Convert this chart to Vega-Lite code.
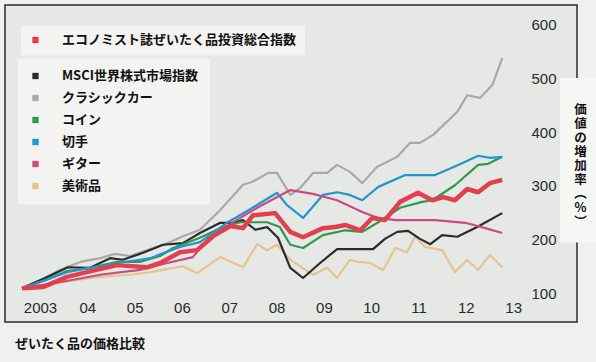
{
  "$schema": "https://vega.github.io/schema/vega-lite/v6.json",
  "width": 572,
  "height": 317,
  "autosize": {"type": "none"},
  "padding": {"left": 5, "top": 5, "right": 19, "bottom": 40},
  "background": "#f0f0f0",
  "config": {
    "view": {"fill": "#e5e8e5", "stroke": "#2b2b2b", "strokeWidth": 1.5},
    "legend": {
      "orient": "none",
      "title": null,
      "symbolType": "square",
      "symbolSize": 40,
      "labelFont": "Noto Sans CJK JP",
      "labelFontWeight": "bold",
      "labelFontSize": 13,
      "labelColor": "#111111",
      "labelOffset": 20,
      "labelLimit": 400,
      "fillColor": "#f3f3f2"
    }
  },
  "title": {
    "text": "ぜいたく品の価格比較",
    "orient": "bottom",
    "anchor": "start",
    "frame": "group",
    "baseline": "top",
    "offset": 16,
    "dx": 10,
    "font": "Noto Sans CJK JP",
    "fontWeight": "bold",
    "fontSize": 13,
    "color": "#111111"
  },
  "datasets": {
    "grid": [{"value": 200}, {"value": 300}, {"value": 400}, {"value": 500}, {"value": 600}],
    "base": [{"value": 100}],
    "prices": [
      {"s": "クラシックカー", "year": 2002.62, "value": 109},
      {"s": "クラシックカー", "year": 2003.0, "value": 124},
      {"s": "クラシックカー", "year": 2003.42, "value": 143},
      {"s": "クラシックカー", "year": 2003.85, "value": 158},
      {"s": "クラシックカー", "year": 2004.27, "value": 165},
      {"s": "クラシックカー", "year": 2004.59, "value": 173},
      {"s": "クラシックカー", "year": 2004.9, "value": 169},
      {"s": "クラシックカー", "year": 2005.33, "value": 182},
      {"s": "クラシックカー", "year": 2005.64, "value": 191},
      {"s": "クラシックカー", "year": 2006.0, "value": 205},
      {"s": "クラシックカー", "year": 2006.38, "value": 218},
      {"s": "クラシックカー", "year": 2006.81, "value": 255},
      {"s": "クラシックカー", "year": 2007.29, "value": 302},
      {"s": "クラシックカー", "year": 2007.48, "value": 307},
      {"s": "クラシックカー", "year": 2007.82, "value": 324},
      {"s": "クラシックカー", "year": 2008.01, "value": 324},
      {"s": "クラシックカー", "year": 2008.29, "value": 283},
      {"s": "クラシックカー", "year": 2008.5, "value": 296},
      {"s": "クラシックカー", "year": 2008.77, "value": 324},
      {"s": "クラシックカー", "year": 2009.07, "value": 324},
      {"s": "クラシックカー", "year": 2009.28, "value": 339},
      {"s": "クラシックカー", "year": 2009.55, "value": 326},
      {"s": "クラシックカー", "year": 2009.81, "value": 305},
      {"s": "クラシックカー", "year": 2010.12, "value": 335},
      {"s": "クラシックカー", "year": 2010.55, "value": 354},
      {"s": "クラシックカー", "year": 2010.82, "value": 380},
      {"s": "クラシックカー", "year": 2011.03, "value": 380},
      {"s": "クラシックカー", "year": 2011.31, "value": 395},
      {"s": "クラシックカー", "year": 2011.82, "value": 438},
      {"s": "クラシックカー", "year": 2012.03, "value": 469},
      {"s": "クラシックカー", "year": 2012.3, "value": 464},
      {"s": "クラシックカー", "year": 2012.56, "value": 488},
      {"s": "クラシックカー", "year": 2012.77, "value": 538},

      {"s": "美術品", "year": 2002.62, "value": 109},
      {"s": "美術品", "year": 2003.42, "value": 120},
      {"s": "美術品", "year": 2004.27, "value": 130},
      {"s": "美術品", "year": 2004.9, "value": 134},
      {"s": "美術品", "year": 2005.33, "value": 139},
      {"s": "美術品", "year": 2006.02, "value": 150},
      {"s": "美術品", "year": 2006.32, "value": 137},
      {"s": "美術品", "year": 2006.81, "value": 167},
      {"s": "美術品", "year": 2007.29, "value": 148},
      {"s": "美術品", "year": 2007.59, "value": 191},
      {"s": "美術品", "year": 2007.8, "value": 180},
      {"s": "美術品", "year": 2008.01, "value": 190},
      {"s": "美術品", "year": 2008.29, "value": 162},
      {"s": "美術品", "year": 2008.77, "value": 134},
      {"s": "美術品", "year": 2009.07, "value": 147},
      {"s": "美術品", "year": 2009.28, "value": 128},
      {"s": "美術品", "year": 2009.55, "value": 162},
      {"s": "美術品", "year": 2009.72, "value": 158},
      {"s": "美術品", "year": 2009.98, "value": 156},
      {"s": "美術品", "year": 2010.25, "value": 143},
      {"s": "美術品", "year": 2010.51, "value": 184},
      {"s": "美術品", "year": 2010.76, "value": 176},
      {"s": "美術品", "year": 2010.93, "value": 206},
      {"s": "美術品", "year": 2011.14, "value": 186},
      {"s": "美術品", "year": 2011.5, "value": 180},
      {"s": "美術品", "year": 2011.77, "value": 139},
      {"s": "美術品", "year": 2012.03, "value": 162},
      {"s": "美術品", "year": 2012.26, "value": 143},
      {"s": "美術品", "year": 2012.51, "value": 171},
      {"s": "美術品", "year": 2012.77, "value": 148},

      {"s": "MSCI世界株式市場指数", "year": 2002.62, "value": 109},
      {"s": "MSCI世界株式市場指数", "year": 2003.11, "value": 128},
      {"s": "MSCI世界株式市場指数", "year": 2003.59, "value": 148},
      {"s": "MSCI世界株式市場指数", "year": 2004.06, "value": 147},
      {"s": "MSCI世界株式市場指数", "year": 2004.48, "value": 165},
      {"s": "MSCI世界株式市場指数", "year": 2004.75, "value": 162},
      {"s": "MSCI世界株式市場指数", "year": 2005.18, "value": 175},
      {"s": "MSCI世界株式市場指数", "year": 2005.6, "value": 190},
      {"s": "MSCI世界株式市場指数", "year": 2006.02, "value": 193},
      {"s": "MSCI世界株式市場指数", "year": 2006.38, "value": 212},
      {"s": "MSCI世界株式市場指数", "year": 2006.81, "value": 231},
      {"s": "MSCI世界株式市場指数", "year": 2007.08, "value": 231},
      {"s": "MSCI世界株式市場指数", "year": 2007.29, "value": 236},
      {"s": "MSCI世界株式市場指数", "year": 2007.55, "value": 218},
      {"s": "MSCI世界株式市場指数", "year": 2007.8, "value": 223},
      {"s": "MSCI世界株式市場指数", "year": 2008.03, "value": 203},
      {"s": "MSCI世界株式市場指数", "year": 2008.29, "value": 147},
      {"s": "MSCI世界株式市場指数", "year": 2008.56, "value": 128},
      {"s": "MSCI世界株式市場指数", "year": 2008.92, "value": 156},
      {"s": "MSCI世界株式市場指数", "year": 2009.28, "value": 182},
      {"s": "MSCI世界株式市場指数", "year": 2010.04, "value": 182},
      {"s": "MSCI世界株式市場指数", "year": 2010.29, "value": 201},
      {"s": "MSCI世界株式市場指数", "year": 2010.55, "value": 214},
      {"s": "MSCI世界株式市場指数", "year": 2010.78, "value": 216},
      {"s": "MSCI世界株式市場指数", "year": 2011.03, "value": 201},
      {"s": "MSCI世界株式市場指数", "year": 2011.25, "value": 191},
      {"s": "MSCI世界株式市場指数", "year": 2011.5, "value": 208},
      {"s": "MSCI世界株式市場指数", "year": 2011.82, "value": 205},
      {"s": "MSCI世界株式市場指数", "year": 2012.24, "value": 223},
      {"s": "MSCI世界株式市場指数", "year": 2012.77, "value": 249},

      {"s": "コイン", "year": 2002.62, "value": 109},
      {"s": "コイン", "year": 2003.11, "value": 124},
      {"s": "コイン", "year": 2003.57, "value": 141},
      {"s": "コイン", "year": 2004.06, "value": 147},
      {"s": "コイン", "year": 2004.63, "value": 158},
      {"s": "コイン", "year": 2005.11, "value": 158},
      {"s": "コイン", "year": 2005.54, "value": 169},
      {"s": "コイン", "year": 2005.81, "value": 184},
      {"s": "コイン", "year": 2006.38, "value": 203},
      {"s": "コイン", "year": 2006.81, "value": 221},
      {"s": "コイン", "year": 2007.23, "value": 232},
      {"s": "コイン", "year": 2007.8, "value": 232},
      {"s": "コイン", "year": 2008.07, "value": 223},
      {"s": "コイン", "year": 2008.29, "value": 190},
      {"s": "コイン", "year": 2008.56, "value": 184},
      {"s": "コイン", "year": 2008.98, "value": 208},
      {"s": "コイン", "year": 2009.45, "value": 217},
      {"s": "コイン", "year": 2009.81, "value": 214},
      {"s": "コイン", "year": 2010.15, "value": 232},
      {"s": "コイン", "year": 2010.61, "value": 259},
      {"s": "コイン", "year": 2011.08, "value": 270},
      {"s": "コイン", "year": 2011.29, "value": 273},
      {"s": "コイン", "year": 2011.77, "value": 301},
      {"s": "コイン", "year": 2012.26, "value": 339},
      {"s": "コイン", "year": 2012.47, "value": 341},
      {"s": "コイン", "year": 2012.77, "value": 354},

      {"s": "切手", "year": 2002.62, "value": 109},
      {"s": "切手", "year": 2003.11, "value": 124},
      {"s": "切手", "year": 2003.57, "value": 139},
      {"s": "切手", "year": 2004.06, "value": 147},
      {"s": "切手", "year": 2004.63, "value": 156},
      {"s": "切手", "year": 2005.11, "value": 162},
      {"s": "切手", "year": 2005.33, "value": 165},
      {"s": "切手", "year": 2005.96, "value": 186},
      {"s": "切手", "year": 2006.38, "value": 195},
      {"s": "切手", "year": 2006.95, "value": 231},
      {"s": "切手", "year": 2007.38, "value": 253},
      {"s": "切手", "year": 2008.01, "value": 287},
      {"s": "切手", "year": 2008.22, "value": 264},
      {"s": "切手", "year": 2008.56, "value": 240},
      {"s": "切手", "year": 2008.98, "value": 283},
      {"s": "切手", "year": 2009.28, "value": 288},
      {"s": "切手", "year": 2009.55, "value": 283},
      {"s": "切手", "year": 2009.81, "value": 273},
      {"s": "切手", "year": 2010.15, "value": 298},
      {"s": "切手", "year": 2010.72, "value": 320},
      {"s": "切手", "year": 2011.35, "value": 320},
      {"s": "切手", "year": 2011.84, "value": 339},
      {"s": "切手", "year": 2012.26, "value": 356},
      {"s": "切手", "year": 2012.51, "value": 352},
      {"s": "切手", "year": 2012.77, "value": 354},

      {"s": "ギター", "year": 2002.62, "value": 109},
      {"s": "ギター", "year": 2003.42, "value": 120},
      {"s": "ギター", "year": 2004.27, "value": 134},
      {"s": "ギター", "year": 2005.11, "value": 143},
      {"s": "ギター", "year": 2005.6, "value": 154},
      {"s": "ギター", "year": 2006.23, "value": 167},
      {"s": "ギター", "year": 2006.53, "value": 199},
      {"s": "ギター", "year": 2007.02, "value": 229},
      {"s": "ギター", "year": 2007.59, "value": 259},
      {"s": "ギター", "year": 2008.29, "value": 292},
      {"s": "ギター", "year": 2008.77, "value": 285},
      {"s": "ギター", "year": 2009.28, "value": 273},
      {"s": "ギター", "year": 2009.55, "value": 262},
      {"s": "ギター", "year": 2009.81, "value": 251},
      {"s": "ギター", "year": 2010.15, "value": 240},
      {"s": "ギター", "year": 2010.51, "value": 236},
      {"s": "ギター", "year": 2011.35, "value": 236},
      {"s": "ギター", "year": 2011.99, "value": 231},
      {"s": "ギター", "year": 2012.41, "value": 221},
      {"s": "ギター", "year": 2012.77, "value": 212},

      {"s": "エコノミスト誌ぜいたく品投資総合指数", "year": 2002.62, "value": 109},
      {"s": "エコノミスト誌ぜいたく品投資総合指数", "year": 2003.06, "value": 111},
      {"s": "エコノミスト誌ぜいたく品投資総合指数", "year": 2003.57, "value": 130},
      {"s": "エコノミスト誌ぜいたく品投資総合指数", "year": 2003.99, "value": 139},
      {"s": "エコノミスト誌ぜいたく品投資総合指数", "year": 2004.63, "value": 152},
      {"s": "エコノミスト誌ぜいたく品投資総合指数", "year": 2005.26, "value": 148},
      {"s": "エコノミスト誌ぜいたく品投資総合指数", "year": 2005.54, "value": 156},
      {"s": "エコノミスト誌ぜいたく品投資総合指数", "year": 2005.96, "value": 176},
      {"s": "エコノミスト誌ぜいたく品投資総合指数", "year": 2006.32, "value": 180},
      {"s": "エコノミスト誌ぜいたく品投資総合指数", "year": 2006.66, "value": 206},
      {"s": "エコノミスト誌ぜいたく品投資総合指数", "year": 2007.02, "value": 225},
      {"s": "エコノミスト誌ぜいたく品投資総合指数", "year": 2007.29, "value": 221},
      {"s": "エコノミスト誌ぜいたく品投資総合指数", "year": 2007.5, "value": 245},
      {"s": "エコノミスト誌ぜいたく品投資総合指数", "year": 2007.97, "value": 249},
      {"s": "エコノミスト誌ぜいたく品投資総合指数", "year": 2008.29, "value": 214},
      {"s": "エコノミスト誌ぜいたく品投資総合指数", "year": 2008.56, "value": 204},
      {"s": "エコノミスト誌ぜいたく品投資総合指数", "year": 2008.98, "value": 221},
      {"s": "エコノミスト誌ぜいたく品投資総合指数", "year": 2009.24, "value": 223},
      {"s": "エコノミスト誌ぜいたく品投資総合指数", "year": 2009.45, "value": 227},
      {"s": "エコノミスト誌ぜいたく品投資総合指数", "year": 2009.77, "value": 217},
      {"s": "エコノミスト誌ぜいたく品投資総合指数", "year": 2010.02, "value": 240},
      {"s": "エコノミスト誌ぜいたく品投資総合指数", "year": 2010.29, "value": 236},
      {"s": "エコノミスト誌ぜいたく品投資総合指数", "year": 2010.61, "value": 270},
      {"s": "エコノミスト誌ぜいたく品投資総合指数", "year": 2010.99, "value": 287},
      {"s": "エコノミスト誌ぜいたく品投資総合指数", "year": 2011.29, "value": 273},
      {"s": "エコノミスト誌ぜいたく品投資総合指数", "year": 2011.52, "value": 279},
      {"s": "エコノミスト誌ぜいたく品投資総合指数", "year": 2011.77, "value": 273},
      {"s": "エコノミスト誌ぜいたく品投資総合指数", "year": 2012.03, "value": 294},
      {"s": "エコノミスト誌ぜいたく品投資総合指数", "year": 2012.26, "value": 288},
      {"s": "エコノミスト誌ぜいたく品投資総合指数", "year": 2012.51, "value": 305},
      {"s": "エコノミスト誌ぜいたく品投資総合指数", "year": 2012.77, "value": 311}
    ]
  },
  "layer": [
    {
      "data": {"name": "grid"},
      "mark": {"type": "rule", "color": "#8c8c8c", "strokeWidth": 1, "strokeDash": [7, 4]},
      "encoding": {
        "x": {"field": "year", "type": "quantitative", "datum": 2003.5},
        "x2": {"datum": 2013.3},
        "y": {"field": "value", "type": "quantitative"}
      }
    },
    {
      "data": {"name": "base"},
      "mark": {"type": "rule", "color": "#1a1a1a", "strokeWidth": 1.5},
      "encoding": {
        "x": {"field": "year", "type": "quantitative", "datum": 2002.62},
        "x2": {"datum": 2013.35},
        "y": {"field": "value", "type": "quantitative"}
      }
    },
    {
      "data": {"name": "prices"},
      "transform": [{"filter": "datum.s != 'エコノミスト誌ぜいたく品投資総合指数'"}],
      "mark": {"type": "line", "strokeWidth": 2.2, "strokeJoin": "round"},
      "encoding": {
        "x": {"field": "year", "type": "quantitative"},
        "y": {"field": "value", "type": "quantitative"},
        "color": {
          "field": "s",
          "type": "nominal",
          "scale": {
            "domain": ["MSCI世界株式市場指数", "クラシックカー", "コイン", "切手", "ギター", "美術品"],
            "range": ["#2b2b2b", "#a9a9a9", "#2f9a4c", "#2196cf", "#cc4a82", "#e6c48f"]
          },
          "legend": {
            "legendX": 13,
            "legendY": 53.5,
            "padding": 11,
            "rowPadding": 8,
            "encode": {"symbols": {"update": {"fill": {"scale": "color", "field": "value"}, "strokeWidth": {"value": 0}}}}
          }
        }
      }
    },
    {
      "data": {"name": "prices"},
      "transform": [{"filter": "datum.s == 'エコノミスト誌ぜいたく品投資総合指数'"}],
      "mark": {"type": "line", "strokeWidth": 4.5, "strokeJoin": "round"},
      "encoding": {
        "x": {
          "field": "year",
          "type": "quantitative",
          "scale": {"domain": [2002.26, 2014.35], "nice": false, "zero": false},
          "axis": {
            "orient": "bottom",
            "offset": -24,
            "title": null,
            "domain": false,
            "ticks": false,
            "grid": false,
            "values": [2003, 2004, 2005, 2006, 2007, 2008, 2009, 2010, 2011, 2012, 2013],
            "format": "d",
            "labelExpr": "datum.value == 2003 ? '2003' : slice(datum.label, 2)",
            "labelPadding": 2,
            "labelFont": "Liberation Sans Narrow, Liberation Sans",
            "labelFontSize": 15,
            "labelColor": "#2a2a2a"
          }
        },
        "y": {
          "field": "value",
          "type": "quantitative",
          "scale": {"domain": [45.9, 637.3], "nice": false, "zero": false},
          "axis": {
            "orient": "right",
            "offset": -48,
            "zindex": 1,
            "domain": false,
            "ticks": false,
            "grid": false,
            "values": [100, 200, 300, 400, 500, 600],
            "labelAlign": "left",
            "labelBaseline": "middle",
            "labelPadding": 2,
            "labelFont": "Liberation Sans Narrow, Liberation Sans",
            "labelFontSize": 15,
            "labelColor": "#2a2a2a",
            "title": ["価", "値", "の", "増", "加", "率", "︵", "%", "︶"],
            "titleAngle": 0,
            "titleX": 51,
            "titleY": 98,
            "titleAlign": "center",
            "titleBaseline": "top",
            "titleLineHeight": 14,
            "titleFont": "Noto Sans CJK JP",
            "titleFontWeight": "bold",
            "titleFontSize": 12.5,
            "titleColor": "#111111"
          }
        },
        "stroke": {
          "field": "s",
          "type": "nominal",
          "scale": {"domain": ["エコノミスト誌ぜいたく品投資総合指数"], "range": ["#e2404e"]},
          "legend": {
            "legendX": 16,
            "legendY": 20.5,
            "padding": 8,
            "encode": {"symbols": {"update": {"fill": {"scale": "stroke", "field": "value"}, "strokeWidth": {"value": 0}}}}
          }
        }
      }
    },
    {
      "data": {"name": "base"},
      "mark": {"type": "rect", "fill": "#f6f6f5", "clip": false},
      "encoding": {
        "x": {"datum": 2013.99, "type": "quantitative"},
        "x2": {"datum": 2014.9},
        "y": {"datum": 501, "type": "quantitative"},
        "y2": {"datum": 194}
      }
    }
  ]
}
